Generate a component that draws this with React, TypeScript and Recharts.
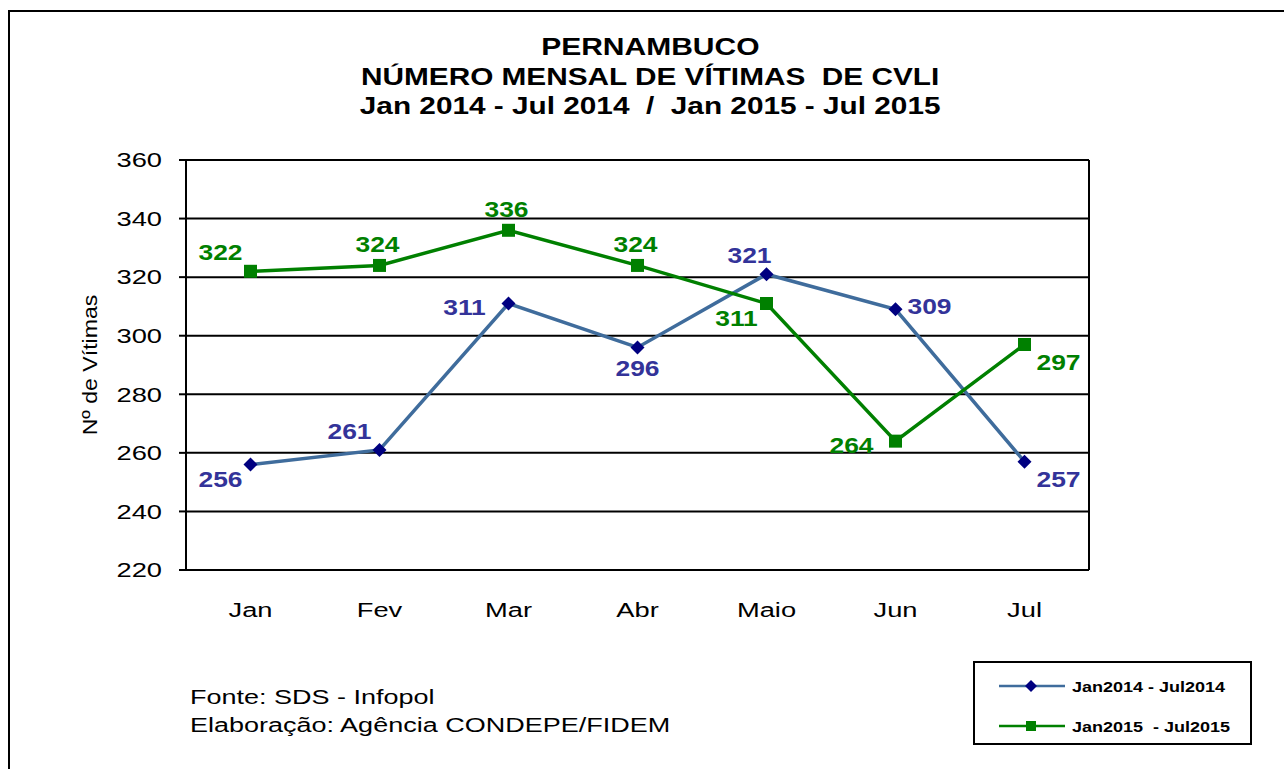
import React from "react";
import { LineChart, Line, XAxis, YAxis, CartesianGrid, LabelList } from "recharts";

const months = ["Jan", "Fev", "Mar", "Abr", "Maio", "Jun", "Jul"];
const vitimas2014 = [256, 261, 311, 296, 321, 309, 257];
const vitimas2015 = [322, 324, 336, 324, 311, 264, 297];
const yTicks = [220, 240, 260, 280, 300, 320, 340, 360];
const seriesNames = ["Jan2014 - Jul2014", "Jan2015  - Jul2015"];

// where each value label sits relative to its point
const labelSide2014 = ["bl", "tl", "l", "b", "tn", "r", "br"];
const labelSide2015 = ["tl", "t", "t", "t", "bl", "l", "br"];

const sideOffset: Record<string, [number, number]> = {
  bl: [-30, 15],
  tl: [-30, -19],
  tn: [-17, -19],
  l: [-44, 4],
  b: [0, 21],
  t: [-2, -21],
  r: [34, -3],
  br: [34, 18],
};

const data = months.map((m, i) => ({
  x: i + 0.5,
  month: m,
  v2014: vitimas2014[i],
  v2015: vitimas2015[i],
}));

const FONT = "'Liberation Sans', Arial, Helvetica, sans-serif";
const BLUE_LINE = "#3F6C9C";
const BLUE_DOT = "#000080";
const BLUE_TEXT = "#333399";
const GREEN = "#008000";

const YTick = (props: any) => {
  const { x, y, payload } = props;
  return (
    <text
      transform={`translate(${x},${y}) scale(1.3,1)`}
      textAnchor="end"
      dominantBaseline="central"
      fontFamily={FONT}
      fontSize={21}
      fill="#000"
    >
      {payload.value}
    </text>
  );
};

const MonthTick = (props: any) => {
  const { x, y, payload } = props;
  const idx = Math.floor(payload.value);
  return (
    <text
      transform={`translate(${x},${y + 32}) scale(1.3,1)`}
      textAnchor="middle"
      dominantBaseline="central"
      fontFamily={FONT}
      fontSize={21}
      fill="#000"
    >
      {months[idx]}
    </text>
  );
};

const Diamond = ({ cx, cy }: any) => (
  <path d={`M${cx},${cy - 7} L${cx + 7},${cy} L${cx},${cy + 7} L${cx - 7},${cy} Z`} fill={BLUE_DOT} />
);

const Square = ({ cx, cy }: any) => <rect x={cx - 6.5} y={cy - 6.5} width={13} height={13} fill={GREEN} />;

const makeLabel = (color: string, sides: string[]) => (p: any) => {
  const { x, y, value, index } = p;
  const [dx, dy] = sideOffset[sides[index]];
  return (
    <text
      key={`lbl-${index}`}
      transform={`translate(${x + dx},${y + dy}) scale(1.2,1)`}
      textAnchor="middle"
      dominantBaseline="central"
      fontFamily={FONT}
      fontWeight="bold"
      fontSize={22}
      fill={color}
    >
      {value}
    </text>
  );
};

const stretch = (s: number, origin = "center"): React.CSSProperties => ({
  display: "inline-block",
  transform: `scaleX(${s})`,
  transformOrigin: origin,
  whiteSpace: "pre",
});

export default function App() {
  return (
    <div
      style={{
        position: "absolute",
        left: 0,
        top: 0,
        width: 1284,
        height: 769,
        overflow: "hidden",
        background: "#fff",
        fontFamily: FONT,
      }}
    >
      <div
        style={{
          position: "absolute",
          left: 8,
          top: 10,
          width: 1300,
          height: 800,
          borderLeft: "2px solid #000",
          borderTop: "2px solid #000",
        }}
      />
      <div
        style={{
          position: "absolute",
          left: 0,
          top: 32,
          width: 1300,
          textAlign: "center",
          fontWeight: "bold",
          fontSize: 24,
          lineHeight: "29.5px",
          color: "#000",
        }}
      >
        <div><span style={stretch(1.25)}>PERNAMBUCO</span></div>
        <div><span style={stretch(1.24)}>NÚMERO MENSAL DE VÍTIMAS  DE CVLI</span></div>
        <div><span style={stretch(1.24)}>Jan 2014 - Jul 2014  /  Jan 2015 - Jul 2015</span></div>
      </div>

      <div
        style={{
          position: "absolute",
          left: 90,
          top: 365,
          transform: "translate(-50%,-50%) rotate(-90deg)",
          fontSize: 21,
          whiteSpace: "nowrap",
          color: "#000",
        }}
      >
        <span style={stretch(1.1)}>Nº de Vítimas</span>
      </div>

      <div style={{ position: "absolute", left: 0, top: 0 }}>
        <LineChart
          width={1284}
          height={769}
          data={data}
          margin={{ top: 160, right: 194, bottom: 151, left: 106 }}
        >
          <CartesianGrid
            xAxisId="cat"
            yAxisId="left"
            vertical={false}
            stroke="#000"
            strokeWidth={2}
          />
          <XAxis
            xAxisId="cat"
            dataKey="x"
            type="number"
            domain={[0, 7]}
            ticks={[0, 1, 2, 3, 4, 5, 6, 7]}
            tick={false}
            tickSize={7}
            height={8}
            axisLine={{ stroke: "#000", strokeWidth: 2 }}
            tickLine={{ stroke: "#000", strokeWidth: 2 }}
          />
          <XAxis
            xAxisId="lbl"
            dataKey="x"
            type="number"
            domain={[0, 7]}
            ticks={data.map((d) => d.x)}
            tick={<MonthTick />}
            tickSize={0}
            tickMargin={0}
            height={40}
            axisLine={false}
            tickLine={false}
          />
          <YAxis
            yAxisId="left"
            domain={[220, 360]}
            ticks={yTicks}
            width={80}
            tickSize={7}
            tickMargin={17}
            tick={<YTick />}
            axisLine={{ stroke: "#000", strokeWidth: 2 }}
            tickLine={{ stroke: "#000", strokeWidth: 2 }}
          />
          <YAxis
            yAxisId="right"
            orientation="right"
            domain={[220, 360]}
            width={1}
            tick={false}
            tickLine={false}
            axisLine={{ stroke: "#000", strokeWidth: 2 }}
          />
          <Line
            xAxisId="cat"
            yAxisId="left"
            dataKey="v2014"
            name={seriesNames[0]}
            stroke={BLUE_LINE}
            strokeWidth={3.5}
            dot={(p: any) => <Diamond key={`d-${p.index}`} {...p} />}
            activeDot={false}
            isAnimationActive={false}
          >
            <LabelList dataKey="v2014" content={makeLabel(BLUE_TEXT, labelSide2014)} />
          </Line>
          <Line
            xAxisId="cat"
            yAxisId="left"
            dataKey="v2015"
            name={seriesNames[1]}
            stroke={GREEN}
            strokeWidth={3.5}
            dot={(p: any) => <Square key={`s-${p.index}`} {...p} />}
            activeDot={false}
            isAnimationActive={false}
          >
            <LabelList dataKey="v2015" content={makeLabel(GREEN, labelSide2015)} />
          </Line>
        </LineChart>
      </div>

      <div
        style={{
          position: "absolute",
          left: 190,
          top: 683,
          fontSize: 20,
          lineHeight: "28px",
          color: "#000",
        }}
      >
        <div><span style={stretch(1.35, "left")}>Fonte: SDS - Infopol</span></div>
        <div><span style={stretch(1.35, "left")}>Elaboração: Agência CONDEPE/FIDEM</span></div>
      </div>

      <div
        style={{
          position: "absolute",
          left: 973,
          top: 661,
          width: 279,
          height: 84,
          border: "2px solid #000",
          boxSizing: "border-box",
        }}
      >
        {seriesNames.map((name, i) => (
          <div
            key={name}
            style={{
              position: "absolute",
              left: 24,
              top: i === 0 ? 11 : 51,
              height: 24,
              display: "flex",
              alignItems: "center",
            }}
          >
            <svg width={66} height={24} style={{ display: "block" }}>
              <line x1={0} y1={12} x2={66} y2={12} stroke={i === 0 ? BLUE_LINE : GREEN} strokeWidth={2.5} />
              {i === 0 ? (
                <path d="M32,6 L38,12 L32,18 L26,12 Z" fill={BLUE_DOT} />
              ) : (
                <rect x={27} y={7} width={10} height={10} fill={GREEN} />
              )}
            </svg>
            <span
              style={{
                ...stretch(1.2, "left"),
                marginLeft: 7,
                fontSize: 15,
                fontWeight: "bold",
                color: "#000",
              }}
            >
              {name}
            </span>
          </div>
        ))}
      </div>
    </div>
  );
}
